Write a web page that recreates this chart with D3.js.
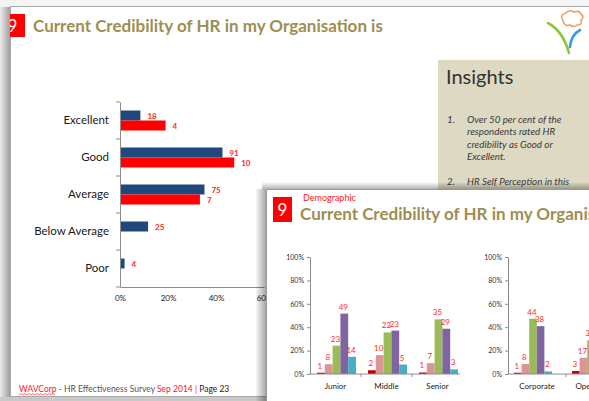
<!DOCTYPE html>
<html><head><meta charset="utf-8">
<script src="https://cdn.jsdelivr.net/npm/d3@7"></script>
<style>
html,body{margin:0;padding:0;background:#fff;overflow:hidden}
svg{display:block;font-family:Lato,"Open Sans",sans-serif}
</style></head>
<body>
<svg id="c" width="589" height="401"></svg>
<script>
// ---------- data ----------
const hCategories = ['Excellent','Good','Average','Below Average','Poor'];
const hBluePct    = [8.5, 42.7, 35.2, 11.7, 1.9];
const hRedPct     = [19.0, 47.6, 33.3, null, null];
const hBlueLabels = [18, 91, 75, 25, 4];
const hRedLabels  = [4, 10, 7, null, null];
const hTicks      = [0, 20, 40, 60];

const seriesNames   = ['Poor','Below Average','Average','Good','Excellent'];
const seriesColors  = ['#C00000','#D99694','#9BBB59','#8064A2','#4BACC6'];
const levelGroups   = ['Junior','Middle','Senior'];
const juniorPct     = [1.1, 8.4, 24.2, 51.6, 14.7];
const juniorCounts  = [1, 8, 23, 49, 14];
const middlePct     = [3.2, 16.1, 35.5, 37.1, 8.1];
const middleCounts  = [2, 10, 22, 23, 5];
const seniorPct     = [1.3, 9.3, 46.7, 38.7, 4.0];
const seniorCounts  = [1, 7, 35, 29, 3];
const functionGroups   = ['Corporate','Operations'];
const corporatePct     = [1.1, 8.6, 47.3, 40.9, 2.2];
const corporateCounts  = [1, 8, 44, 38, 2];
const operationsPct    = [2.5, 13.9, 28.7, 41.8, 13.1];
const operationsCounts = [3, 17, 35, 51, 16];
const vTicks = [0, 20, 40, 60, 80, 100];

const svg = d3.select('#c');
const defs = svg.append('defs');
function grad(id, x1,y1,x2,y2, stops){
  const g = defs.append('linearGradient').attr('id',id)
    .attr('x1',x1).attr('y1',y1).attr('x2',x2).attr('y2',y2);
  stops.forEach(s=>g.append('stop').attr('offset',s[0]).attr('stop-color',s[1]).attr('stop-opacity',s[2]));
}
grad('shL','0','0','1','0',[[0,'#000',0.03],[1,'#000',0.35]]);
grad('shT','0','0','0','1',[[0,'#000',0.0],[1,'#000',0.3]]);
defs.append('clipPath').attr('id','backClip').append('rect').attr('x',10).attr('y',7).attr('width',579).attr('height',390);
defs.append('clipPath').attr('id','frontClip').append('rect').attr('x',266).attr('y',189).attr('width',323).attr('height',212);

// ---------- back slide ----------
svg.append('rect').attr('x',0).attr('y',0).attr('width',589).attr('height',401).attr('fill','#f4f4f4');
svg.append('rect').attr('x',0).attr('y',7).attr('width',10).attr('height',394).attr('fill','url(#shL)');
svg.append('rect').attr('x',0).attr('y',397).attr('width',589).attr('height',4).attr('fill','#c9c9c9');
svg.append('rect').attr('x',10.5).attr('y',6.5).attr('width',600).attr('height',390)
  .attr('fill','#fff').attr('stroke','#a9a9a9');

const back = svg.append('g').attr('clip-path','url(#backClip)');
back.append('rect').attr('x',0).attr('y',14).attr('width',25).attr('height',23).attr('fill','#FF0000');
back.append('text').attr('x',12.5).attr('y',32).attr('text-anchor','middle')
  .attr('fill','#fff').attr('font-size',17).text('9');
back.append('text').attr('x',33).attr('y',32).attr('fill','#9E8E50')
  .attr('font-size',17).attr('font-weight','bold').text('Current Credibility of HR in my Organisation is');

// horizontal bar chart
const hy = d3.scaleBand().domain(hCategories).range([102, 287]);
const hx = d3.scaleLinear().domain([0, 60]).range([120, 264]);
const hInner = d3.scaleBand().domain(['blue','red']).range([hy.bandwidth()/2 - 10, hy.bandwidth()/2 + 10]);
const hg = back.append('g');
hg.selectAll('rect.b').data(hCategories).join('rect')
  .attr('x', hx(0)).attr('y', d=>hy(d)+hInner('blue'))
  .attr('width', (d,i)=>hx(hBluePct[i])-hx(0)).attr('height', hInner.bandwidth())
  .attr('fill','#1F497D');
hg.selectAll('rect.r').data(hCategories.filter((d,i)=>hRedPct[i]!=null)).join('rect')
  .attr('x', hx(0)).attr('y', d=>hy(d)+hInner('red'))
  .attr('width', d=>hx(hRedPct[hCategories.indexOf(d)])-hx(0)).attr('height', hInner.bandwidth())
  .attr('fill','#FF0000');
hg.selectAll('text.bl').data(hCategories).join('text')
  .attr('x',(d,i)=>hx(hBluePct[i])+7).attr('y',d=>hy(d)+hInner('blue')+hInner.bandwidth()/2+3)
  .attr('fill','#FF2A2A').attr('font-size',8).attr('font-weight','bold').text((d,i)=>hBlueLabels[i]);
hg.selectAll('text.rl').data(hCategories.filter((d,i)=>hRedLabels[i]!=null)).join('text')
  .attr('x',d=>hx(hRedPct[hCategories.indexOf(d)])+7).attr('y',d=>hy(d)+hInner('red')+hInner.bandwidth()/2+3)
  .attr('fill','#FF2A2A').attr('font-size',8).attr('font-weight','bold').text(d=>hRedLabels[hCategories.indexOf(d)]);
// y axis
const hya = hg.append('g').attr('transform',`translate(${hx(0)},0)`)
  .call(d3.axisLeft(hy).tickSize(0).tickPadding(11));
hya.select('.domain').attr('stroke','#8c8c8c');
hya.selectAll('text').attr('font-size',11.5).attr('fill','#1a1a1a').attr('font-family','Lato,sans-serif');
hg.selectAll('line.bt').data(hCategories.map(d=>hy(d)).concat([hy.range()[1]])).join('line')
  .attr('x1',hx(0)-4).attr('x2',hx(0)).attr('y1',d=>d).attr('y2',d=>d).attr('stroke','#8c8c8c');
// x axis
const hxa = hg.append('g').attr('transform',`translate(0,${hy.range()[1]})`)
  .call(d3.axisBottom(hx).tickValues(hTicks).tickFormat(d=>d+'%').tickSize(0).tickPadding(8));
hxa.select('.domain').attr('stroke','#8c8c8c');
hxa.selectAll('text').attr('font-size',8).attr('fill','#222').attr('font-family','Lato,sans-serif');

// insights box
back.append('rect').attr('x',438).attr('y',60).attr('width',160).attr('height',140).attr('fill','#DDD9C3');
back.append('text').attr('x',446).attr('y',84).attr('font-size',20).attr('fill','#333').text('Insights');
const insightLines = [['1.','Over 50 per cent of the'],['','respondents rated HR'],['','credibility as Good or'],['','Excellent.'],['',''],['2.','HR Self Perception in this']];
insightLines.forEach((l,i)=>{
  const y = 123 + i*12.3;
  back.append('text').attr('x',447).attr('y',y).attr('font-size',9.8).attr('font-style','italic').attr('fill','#3a3a3a').text(l[0]);
  back.append('text').attr('x',467).attr('y',y).attr('font-size',9.8).attr('font-style','italic').attr('fill','#3a3a3a').text(l[1]);
});

// logo
const logo = back.append('g').attr('fill','none').attr('stroke-linecap','round');
logo.append('path').attr('d','M563,21 q-4,-6 3,-8 q3,-4 8,-1 q5,-2 7,2 q4,3 0,6 q2,5 -4,5 q-3,3 -7,0 q-5,2 -7,-4 z')
  .attr('stroke','#F0A060').attr('stroke-width',1.6);
logo.append('path').attr('d','M548,23 q15,8 21,30').attr('stroke','#8DC63F').attr('stroke-width',2.6);
logo.append('path').attr('d','M580,30 q-9,5 -10,17').attr('stroke','#3B9BD9').attr('stroke-width',2.6);

// footer
const ft = back.append('text').attr('x',19).attr('y',392).attr('font-size',8.5);
ft.append('tspan').attr('fill','#FF2020').text('WAVCorp');
ft.append('tspan').attr('fill','#555').text('  - HR Effectiveness Survey ');
ft.append('tspan').attr('fill','#FF2020').text('Sep 2014 | ');
ft.append('tspan').attr('fill','#222').text('Page  23');
back.append('path').attr('d','M19,395 l2,-1.5 l2,1.5 l2,-1.5 l2,1.5 l2,-1.5 l2,1.5 l2,-1.5 l2,1.5 l2,-1.5 l2,1.5 l2,-1.5 l2,1.5 l2,-1.5 l2,1.5 l2,-1.5 l2,1.5 l2,-1.5 l2,1.5')
  .attr('fill','none').attr('stroke','#FF3030').attr('stroke-width',0.7);

// ---------- front slide ----------
svg.append('rect').attr('x',256).attr('y',189).attr('width',10).attr('height',212).attr('fill','url(#shL)');
svg.append('rect').attr('x',262).attr('y',182).attr('width',327).attr('height',7).attr('fill','url(#shT)');
svg.append('rect').attr('x',266.5).attr('y',189.5).attr('width',330).attr('height',220)
  .attr('fill','#fff').attr('stroke','#9a9a9a');
const front = svg.append('g').attr('clip-path','url(#frontClip)');
front.append('rect').attr('x',273).attr('y',197).attr('width',19).attr('height',25).attr('fill','#FF0000');
front.append('text').attr('x',282.5).attr('y',216).attr('text-anchor','middle')
  .attr('fill','#fff').attr('font-size',17).text('9');
front.append('text').attr('x',303).attr('y',201).attr('fill','#FF2020').attr('font-size',9).text('Demographic');
front.append('text').attr('x',300).attr('y',220).attr('fill','#9E8E50')
  .attr('font-size',17).attr('font-weight','bold').text('Current Credibility of HR in my Organisation is');

const vy = d3.scaleLinear().domain([0,100]).range([374, 257]);

function panel(axisX, groups, pcts, counts, bandW, innerStart, innerEnd, axisEnd){
  const g = front.append('g');
  const gx = d3.scaleBand().domain(groups).range([axisX, axisX + bandW*groups.length]);
  const inner = d3.scaleBand().domain(seriesNames).range([innerStart, innerEnd]);
  groups.forEach((grp, gi)=>{
    const gg = g.append('g').attr('transform',`translate(${gx(grp)},0)`);
    gg.selectAll('rect').data(seriesNames).join('rect')
      .attr('x', d=>inner(d)).attr('y', (d,i)=>vy(pcts[gi][i]))
      .attr('width', inner.bandwidth()).attr('height', (d,i)=>vy(0)-vy(pcts[gi][i]))
      .attr('fill', (d,i)=>seriesColors[i]);
    gg.selectAll('text').data(seriesNames).join('text')
      .attr('x', d=>inner(d)+inner.bandwidth()/2 - 1).attr('y', (d,i)=>vy(pcts[gi][i]) - 4)
      .attr('text-anchor','middle').attr('fill','#FF2A2A').attr('font-size',8)
      .text((d,i)=>counts[gi][i]);
  });
  const ya = g.append('g').attr('transform',`translate(${axisX},0)`)
    .call(d3.axisLeft(vy).tickValues(vTicks).tickFormat(d=>d+'%').tickSize(3).tickPadding(3));
  ya.selectAll('path,line').attr('stroke','#8c8c8c');
  ya.selectAll('text').attr('font-size',7).attr('fill','#333').attr('font-family','Lato,sans-serif');
  const xa = g.append('g').attr('transform',`translate(0,${vy(0)})`)
    .call(d3.axisBottom(gx).tickSize(0).tickPadding(9));
  xa.select('.domain').remove();
  xa.selectAll('text').attr('font-size',8).attr('fill','#222').attr('font-family','Lato,sans-serif');
  g.append('line').attr('x1',axisX).attr('x2',axisEnd).attr('y1',vy(0)).attr('y2',vy(0)).attr('stroke','#8c8c8c');
  g.selectAll('line.gt').data(groups.slice(1)).join('line')
    .attr('x1',d=>gx(d)).attr('x2',d=>gx(d)).attr('y1',vy(0)).attr('y2',vy(0)+3).attr('stroke','#8c8c8c');
}
panel(310, levelGroups, [juniorPct, middlePct, seniorPct], [juniorCounts, middleCounts, seniorCounts], 51, 7, 46, 460);
panel(508, functionGroups, [corporatePct, operationsPct], [corporateCounts, operationsCounts], 58, 6, 44, 640);
</script>
</body></html>
